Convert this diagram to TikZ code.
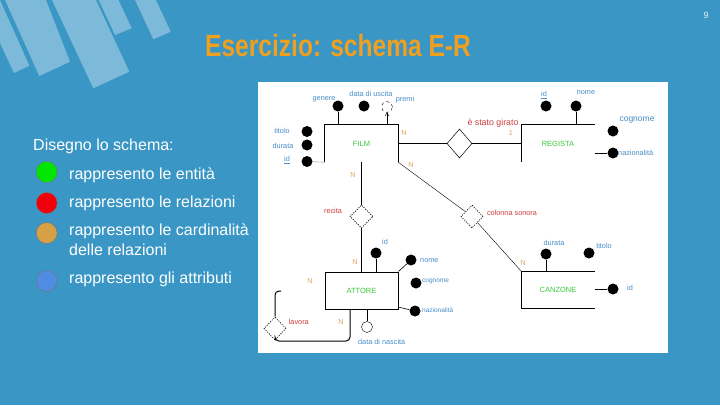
\documentclass[tikz,border=0pt]{standalone}
\usepackage{fontspec}
\setmainfont{Liberation Sans}
\newfontfamily\titlefont{Liberation Sans}[FakeStretch=0.8]
\usetikzlibrary{shapes.geometric,arrows.meta}

\definecolor{slideblue}{RGB}{58,150,196}
\definecolor{stripeblue}{RGB}{125,185,217}
\definecolor{titleorange}{RGB}{240,160,32}
\definecolor{attrblue}{RGB}{70,140,200}
\definecolor{relred}{RGB}{205,60,60}
\definecolor{cardorange}{RGB}{225,165,95}
\definecolor{entgreen}{RGB}{60,200,60}
\definecolor{bulgreen}{RGB}{0,230,0}
\definecolor{bulred}{RGB}{240,0,10}
\definecolor{bulorange}{RGB}{214,160,70}
\definecolor{bulblue}{RGB}{80,140,225}

\begin{document}
\begin{tikzpicture}[x=1pt, y=-1pt,
    entity/.style={rectangle, minimum width=73pt, minimum height=37pt, inner sep=0pt, text=entgreen, font=\fontsize{7.5}{8}\selectfont},
    relation/.style={diamond, draw, line width=0.6pt, dash pattern=on 1.2pt off 1.2pt, inner sep=0pt, minimum width=23pt, minimum height=23pt},
    attr/.style={circle, fill=black, inner sep=0pt, minimum size=11pt},
    optattr/.style={circle, draw, thin, fill=white, inner sep=0pt, minimum size=11pt},
    attrlabel/.style={text=attrblue, inner sep=0pt, font=\fontsize{7.3}{8}\selectfont},
    rellabel/.style={text=relred, inner sep=0pt, font=\fontsize{7.3}{8}\selectfont},
    card/.style={text=cardorange, inner sep=0pt, font=\fontsize{7.3}{8}\selectfont},
    link/.style={line width=1pt},
    legend/.style={circle, draw=black!55, minimum size=21pt, inner sep=0pt},
    bulletline/.style={anchor=base west, text=white, inner sep=0pt, font=\fontsize{16}{18}\selectfont}
]
    \useasboundingbox (0,0) rectangle (720,405);

    % Slide background and stripes
    \fill[slideblue] (0,0) rectangle (720,405);
    \begin{scope}
    \clip (0,0) rectangle (720,405);
    \fill[stripeblue] (-20,0) -- (14,73) -- (29.4,65.8) -- (0,0) -- cycle;
    \fill[stripeblue] (5,0) -- (39.3,76) -- (70,61.7) -- (46,0) -- cycle;
    \fill[stripeblue] (52,0) -- (93.3,88.3) -- (129.3,71.7) -- (96,0) -- cycle;
    \fill[stripeblue] (98.7,0) -- (115,35) -- (131.7,28.3) -- (118.5,0) -- cycle;
    \fill[stripeblue] (135,0) -- (153.3,39.3) -- (170.7,31.7) -- (155.9,0) -- cycle;
    \end{scope}

    \node[text=white!85!slideblue, font=\fontsize{9}{10}\selectfont] (pagenum) at (706,15) {9};
    \node[anchor=base west, inner sep=0pt, text=titleorange, font=\titlefont\bfseries\fontsize{30.7}{32}\selectfont] (title) at (205,56.7) {Esercizio: schema E-R};

    % Left side: legend
    \node[bulletline] (intro) at (33,150.7) {Disegno lo schema:};
    \node[legend, fill=bulgreen] (cgreen) at (46.7,172) {};
    \node[legend, fill=bulred] (cred) at (46.7,203) {};
    \node[legend, fill=bulorange] (corange) at (46.7,233) {};
    \node[legend, fill=bulblue] (cblue) at (46.7,281) {};
    \node[bulletline] (t1) at (69,179.3) {rappresento le entità};
    \node[bulletline] (t2) at (69,207.7) {rappresento le relazioni};
    \node[bulletline] (t3) at (69,235.7) {rappresento le cardinalità};
    \node[bulletline] (t4) at (69,255) {delle relazioni};
    \node[bulletline] (t5) at (69,283.3) {rappresento gli attributi};

    % Right side: the E-R schema
    \fill[white] (258,82) rectangle (668,353);

    \node[entity] (film) at (361.5,143.5) {FILM};
    \node[entity] (regista) at (558,143.5) {REGISTA};
    \node[entity] (canzone) at (558,290) {CANZONE};
    \node[entity, draw, line width=1pt] (attore) at (361.5,290.5) {ATTORE};

    \node[relation, solid, line width=0.5pt, minimum width=25pt, minimum height=29pt] (girato) at (459.5,143.5) {};
    \node[relation] (recita) at (361.5,216.5) {};
    \node[relation, minimum width=22pt] (colonna) at (472,216.5) {};
    \node[relation, minimum width=22pt] (lavora) at (275,328.5) {};

    % attributes of FILM
    \node[attr] (fgen) at (338,106) {};
    \node[attr] (fusc) at (364,106) {};
    \node[optattr, dashed] (fpremi) at (387,107) {};
    \node[attr] (ftit) at (307,131.5) {};
    \node[attr] (fdur) at (307,145) {};
    \node[attr] (fid) at (307,161.5) {};

    % attributes of REGISTA
    \node[attr] (rid) at (546,106) {};
    \node[attr] (rnome) at (576,106) {};
    \node[attr] (rcogn) at (613,131) {};
    \node[attr] (rnaz) at (613,153) {};

    % attributes of CANZONE
    \node[attr] (cdur) at (546,254) {};
    \node[attr] (ctit) at (589,253) {};
    \node[attr] (cid) at (613,289) {};

    % attributes of ATTORE
    \node[attr] (aid) at (376,253) {};
    \node[attr] (anome) at (411,260) {};
    \node[attr] (acogn) at (416,283) {};
    \node[attr] (anaz) at (415,311) {};
    \node[optattr] (anasc) at (367,327) {};

    \coordinate (anazA) at (398,307);
    \coordinate (lavtop) at (281,291);
    \coordinate (lavbot) at (350,341);
    \coordinate (lavend) at (350,309);

    % entity outlines
    \draw[link] (film.south west) |- (film.north east) -- (film.south east);
    \draw[link] (regista.south west) |- (regista.north east);
    \draw[link] (canzone.north east) -| (canzone.south west) -- (canzone.south east);

    % connectors
    \draw[link] (fgen) -- (fgen |- film.north);
    \draw[draw=black!50, thin] (fid) -- (film.south west);
    \draw[thin, -{Straight Barb[length=3pt, width=4pt]}] (film.north -| fpremi) -- (fpremi);
    \draw[link] (film.east) -- (girato);
    \draw[link] (girato) -- (regista.west);
    \draw[link] (rnome) -- (rnome |- regista.north);
    \draw[link] (regista.east |- rnaz) -- (rnaz);
    \draw[thin] (film.south east) -- (colonna);
    \draw[thin] (colonna) -- (canzone.north west);
    \draw[link] (film.south) -- (recita);
    \draw[link] (recita) -- (attore.north);
    \draw[link] (cdur) -- (cdur |- canzone.north);
    \draw[link] (canzone.east |- cid) -- (cid);
    \draw[link] (aid) -- (aid |- attore.north);
    \draw[semithick] (attore.north east) -- (anome);
    \draw[semithick] (anazA) -- (anaz);
    \draw[link] (attore.south -| anasc) -- (anasc);
    \draw[link, rounded corners=4pt] (lavtop) -| (lavora.north);
    \draw[link, rounded corners=4pt] (lavora.south) |- (lavbot) -- (lavend);

    % labels
    \node[attrlabel] (lgen) at (324,99) {genere};
    \node[attrlabel] (lusc) at (371,94) {data di uscita};
    \node[attrlabel] (lpremi) at (405,100) {premi};
    \node[attrlabel] (ltit) at (282,131) {titolo};
    \node[attrlabel] (ldur) at (283,145.7) {durata};
    \node[attrlabel] (lfid) at (287,160) {\underline{id}};
    \node[attrlabel] (lrid) at (544,95) {\underline{id}};
    \node[attrlabel] (lrnome) at (586,93) {nome};
    \node[attrlabel, font=\fontsize{8.5}{9}\selectfont] (lrcogn) at (637,120) {cognome};
    \node[attrlabel, anchor=west] (lrnaz) at (618,153) {nazionalità};
    \node[attrlabel] (lcdur) at (554,242.7) {durata};
    \node[attrlabel] (lctit) at (604,246) {titolo};
    \node[attrlabel] (lcid) at (630,288) {id};
    \node[attrlabel] (laid) at (385,241.7) {id};
    \node[attrlabel, anchor=west] (lanome) at (420,260.7) {nome};
    \node[attrlabel, anchor=west, font=\fontsize{6.5}{7}\selectfont] (lacogn) at (422,281) {cognome};
    \node[attrlabel, anchor=west, font=\fontsize{6.5}{7}\selectfont] (lanaz) at (422,310) {nazionalità};
    \node[attrlabel] (lanasc) at (381.7,341.7) {data di nascita};

    \node[rellabel, font=\fontsize{8.8}{9}\selectfont] (lgirato) at (493,123.3) {è stato girato};
    \node[rellabel] (lcolonna) at (512,212.7) {colonna sonora};
    \node[rellabel] (lrecita) at (333,210.7) {recita};
    \node[rellabel] (llavora) at (298.8,321.7) {lavora};

    \node[card] (n1) at (404,133) {N};
    \node[card] (n2) at (511,133) {1};
    \node[card] (n3) at (411,165) {N};
    \node[card] (n4) at (353,175) {N};
    \node[card] (n5) at (355,262) {N};
    \node[card] (n6) at (310,281) {N};
    \node[card] (n7) at (341,322) {N};
    \node[card] (n8) at (523,263) {N};
\end{tikzpicture}
\end{document}
